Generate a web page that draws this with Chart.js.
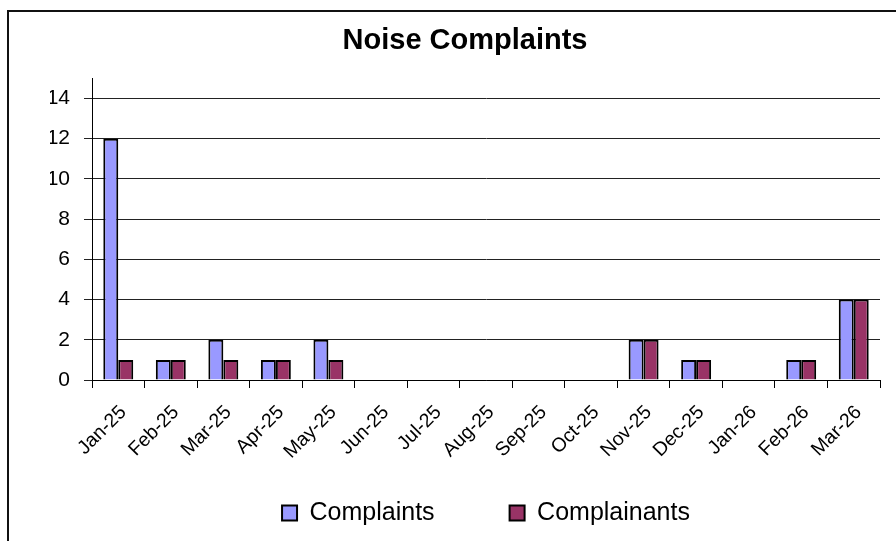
<!DOCTYPE html>
<html>
<head>
<meta charset="utf-8">
<script src="https://cdn.jsdelivr.net/npm/chart.js@4"></script>
<style>
  body { margin: 0; background: #fff; }
  #box { width: 896px; height: 541px; }
</style>
</head>
<body>
<div id="box"><canvas id="myChart" width="896" height="541"></canvas></div>
<script>
const months = ['Jan-25', 'Feb-25', 'Mar-25', 'Apr-25', 'May-25', 'Jun-25', 'Jul-25', 'Aug-25',
  'Sep-25', 'Oct-25', 'Nov-25', 'Dec-25', 'Jan-26', 'Feb-26', 'Mar-26']
const complaints = [12, 1, 2, 1, 2, 0, 0, 0, 0, 0, 2, 1, 0, 1, 4]
const complainants = [1, 1, 1, 1, 1, 0, 0, 0, 0, 0, 2, 1, 0, 1, 4]

Chart.defaults.font.family = "'Liberation Sans', Arial, sans-serif"
Chart.defaults.color = '#000'

// outer frame like the spreadsheet chart (right and bottom edges run off the picture)
const frame = {
  id: 'frame',
  afterLayout(chart) {
    // the x labels hang down into the legend's padding; stop them being clipped
    const x = chart.scales.x
    x.bottom = x.top + 115
  },
  afterDraw(chart) {
    const c = chart.ctx
    c.save()
    c.strokeStyle = '#111'
    c.lineWidth = 2
    c.strokeRect(8, 11, 900, 600)
    c.restore()
  }
}

// no outline for empty months
const edge = (c) => (c.raw === 0 ? 0 : 2)

const ctx = document.querySelector('#myChart')

new Chart(ctx, {
  type: 'bar',
  data: {
    labels: months,
    datasets: [{
      label: 'Complaints',
      data: complaints,
      backgroundColor: '#9999ff',
      borderColor: '#000',
      borderWidth: edge
    }, {
      label: 'Complainants',
      data: complainants,
      backgroundColor: '#993366',
      borderColor: '#000',
      borderWidth: edge
    }]
  },
  options: {
    responsive: false,
    animation: false,
    layout: { padding: { left: 50, right: 16, top: 0, bottom: 5.5 } },
    datasets: { bar: { categoryPercentage: 0.57, barPercentage: 1 } },
    plugins: {
      title: {
        display: true,
        text: 'Noise Complaints',
        font: { size: 29, weight: 'bold' },
        padding: { top: 23.5, bottom: 20 }
      },
      legend: {
        position: 'bottom',
        fullSize: false,
        labels: {
          font: { size: 25 },
          boxWidth: 15,
          boxHeight: 15,
          padding: 75
        }
      },
      tooltip: { enabled: false }
    },
    scales: {
      x: {
        grid: { offset: true, drawOnChartArea: false, drawTicks: true, tickLength: 8, color: '#000' },
        border: { color: '#000', width: 1 },
        ticks: { font: { size: 19.5 }, maxRotation: 45, minRotation: 45, padding: 13, labelOffset: 5 },
        afterFit(scale) { scale.height = 45.5 }
      },
      y: {
        min: 0,
        max: 15,
        grid: { color: '#222', tickLength: 8 },
        border: { color: '#000', width: 1 },
        ticks: { stepSize: 2, includeBounds: false, font: { size: 21 }, padding: 14 },
        afterFit(scale) { scale.width = 42 }
      }
    }
  },
  plugins: [frame]
})
</script>
</body>
</html>
